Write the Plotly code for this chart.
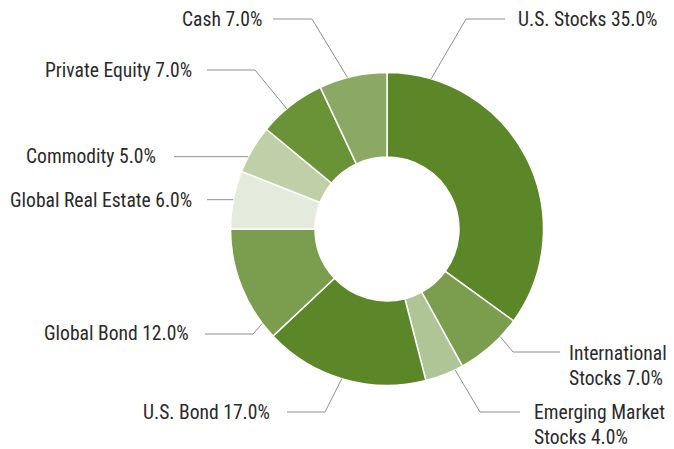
import math
import plotly.graph_objects as go

# ---- data ----
categories = ["U.S. Stocks", "International Stocks", "Emerging Market Stocks",
              "U.S. Bond", "Global Bond", "Global Real Estate", "Commodity",
              "Private Equity", "Cash"]
weights = [35.0, 7.0, 4.0, 17.0, 12.0, 6.0, 5.0, 7.0, 7.0]

# ---- style ----
colors = ["#5c8728", "#7b9d4e", "#b0c596", "#5c8728", "#7b9d4e",
          "#e4eadc", "#bfcfa8", "#6a9236", "#8ba864"]

W, H = 674, 449
CX, CY, R = 387, 229, 156.5
HOLE = 0.46
FONT = "'Roboto Condensed', Roboto, sans-serif"
FSIZE = 19.6
LINE_COLOR = "#8f8f8f"
TEXT_COLOR = "#2a2a2a"

# label layout (pixels): frac within slice for connector start, elbow, line end, text anchor
label_layout = [
    dict(frac=0.13, elbow=(466, 19), end_x=505, tx=516, ty=20, side="left", wrap=False),
    dict(frac=0.30, elbow=(513, 352), end_x=560, tx=567, ty=366, side="left", wrap=True),
    dict(frac=0.21, elbow=(480, 412), end_x=520, tx=532, ty=425, side="left", wrap=True),
    dict(frac=0.51, elbow=(325, 412), end_x=287, tx=272, ty=412, side="right", wrap=False),
    dict(frac=0.14, elbow=(253, 334), end_x=205, tx=191, ty=333, side="right", wrap=False),
    dict(frac=0.50, elbow=None, end_x=207, tx=194, ty=200, side="right", wrap=False),
    dict(frac=0.33, elbow=None, end_x=174, tx=158, ty=156, side="right", wrap=False),
    dict(frac=0.42, elbow=(255, 70), end_x=207, tx=194, ty=70, side="right", wrap=False),
    dict(frac=0.42, elbow=(312, 19), end_x=273, tx=264, ty=20, side="right", wrap=False),
]


def px(x):
    return x / W


def py(y):
    return 1 - y / H


fig = go.Figure()
fig.add_trace(go.Pie(
    labels=categories,
    values=weights,
    sort=False,
    direction="clockwise",
    rotation=0,
    hole=HOLE,
    marker=dict(colors=colors, line=dict(color="white", width=1.5)),
    textinfo="none",
    hoverinfo="label+percent",
    showlegend=False,
    domain=dict(x=[px(CX - R), px(CX + R)], y=[py(CY + R), py(CY - R)]),
))

shapes = []
annotations = []
total = sum(weights)
cum = 0.0
for name, val, lay in zip(categories, weights, label_layout):
    a0 = cum / total * 360.0
    a1 = (cum + val) / total * 360.0
    cum += val
    ang = math.radians(a0 + lay["frac"] * (a1 - a0))
    sx = CX + R * math.sin(ang)
    sy = CY - R * math.cos(ang)
    if lay["elbow"] is None:
        ex, ey = sx, sy
    else:
        ex, ey = lay["elbow"]
    pts = [(sx, sy), (ex, ey), (lay["end_x"], ey)]
    path = "M " + " L ".join(f"{px(x)},{py(y)}" for x, y in pts)
    shapes.append(dict(type="path", xref="paper", yref="paper", path=path,
                       line=dict(color=LINE_COLOR, width=1)))
    if lay["wrap"]:
        words = name.split(" ")
        txt = " ".join(words[:-1]) + "<br>" + words[-1] + f" {val:.1f}%"
    else:
        txt = f"{name} {val:.1f}%"
    annotations.append(dict(
        x=px(lay["tx"]), y=py(lay["ty"]), xref="paper", yref="paper",
        text=txt, showarrow=False,
        xanchor="left" if lay["side"] == "left" else "right",
        yanchor="middle", align="left",
        font=dict(family=FONT, size=FSIZE, color=TEXT_COLOR),
    ))

fig.update_layout(
    width=W, height=H,
    margin=dict(l=0, r=0, t=0, b=0),
    paper_bgcolor="white", plot_bgcolor="white",
    shapes=shapes, annotations=annotations,
)

fig.write_html("out.html", config=dict(displayModeBar=False),
               post_script="document.body.style.margin='0';document.body.style.overflow='hidden';")
